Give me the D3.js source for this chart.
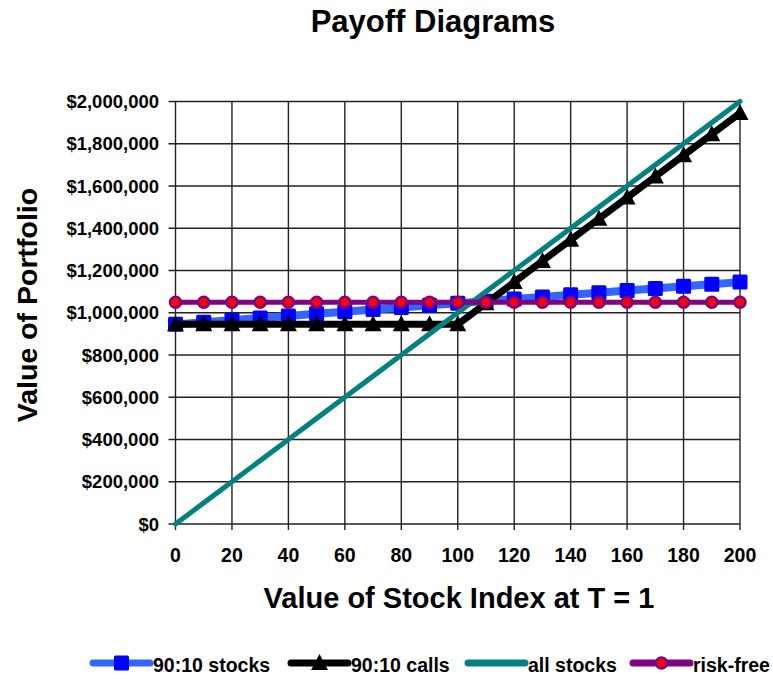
<!DOCTYPE html>
<html>
<head>
<meta charset="utf-8">
<script src="https://cdn.jsdelivr.net/npm/d3@7"></script>
<style>
  body { margin: 0; background: #fff; }
  text { font-family: "Liberation Sans", Arial, sans-serif; font-weight: bold; fill: #000; }
</style>
</head>
<body>
<svg id="chart" width="773" height="679"></svg>
<script>
// stock index levels at T = 1
var indexLevels = [0, 10, 20, 30, 40, 50, 60, 70, 80, 90, 100, 110, 120, 130, 140, 150, 160, 170, 180, 190, 200];

// portfolio values
var stocks9010 = [945000, 955000, 965000, 975000, 985000, 995000, 1005000, 1015000, 1025000, 1035000, 1045000,
                  1055000, 1065000, 1075000, 1085000, 1095000, 1105000, 1115000, 1125000, 1135000, 1145000];
var calls9010 = [945000, 945000, 945000, 945000, 945000, 945000, 945000, 945000, 945000, 945000, 945000,
                 1045000, 1145000, 1245000, 1345000, 1445000, 1545000, 1645000, 1745000, 1845000, 1945000];
var allStocks = [0, 100000, 200000, 300000, 400000, 500000, 600000, 700000, 800000, 900000, 1000000,
                 1100000, 1200000, 1300000, 1400000, 1500000, 1600000, 1700000, 1800000, 1900000, 2000000];
var riskFree = [1050000, 1050000, 1050000, 1050000, 1050000, 1050000, 1050000, 1050000, 1050000, 1050000, 1050000,
                1050000, 1050000, 1050000, 1050000, 1050000, 1050000, 1050000, 1050000, 1050000, 1050000];

var seriesNames = ["90:10 stocks", "90:10 calls", "all stocks", "risk-free"];

var xTicks = [0, 20, 40, 60, 80, 100, 120, 140, 160, 180, 200];
var yTicks = [0, 200000, 400000, 600000, 800000, 1000000, 1200000, 1400000, 1600000, 1800000, 2000000];

var series = [
  {name: seriesNames[0], values: stocks9010, line: "#3366ff", width: 8, marker: "square"},
  {name: seriesNames[1], values: calls9010, line: "#000000", width: 7, marker: "triangle"},
  {name: seriesNames[2], values: allStocks, line: "#008080", width: 5, marker: null},
  {name: seriesNames[3], values: riskFree, line: "#800080", width: 5, marker: "circle"}
];

var svg = d3.select("#chart");
var plotLeft = 175.5, plotRight = 740, plotTop = 101.5, plotBottom = 524;

var x = d3.scaleLinear().domain([0, 200]).range([plotLeft, plotRight]);
var y = d3.scaleLinear().domain([0, 2000000]).range([plotBottom, plotTop]);
var money = d3.format("$,");

// gridlines (and tick marks poking out of the plot)
svg.append("g").selectAll("line").data(xTicks).enter().append("line")
  .attr("x1", function(d){ return x(d); }).attr("x2", function(d){ return x(d); })
  .attr("y1", plotTop).attr("y2", plotBottom + 6)
  .attr("stroke", "#222").attr("stroke-width", 1.4);
svg.append("g").selectAll("line").data(yTicks).enter().append("line")
  .attr("x1", plotLeft - 7).attr("x2", plotRight)
  .attr("y1", function(d){ return y(d); }).attr("y2", function(d){ return y(d); })
  .attr("stroke", "#222").attr("stroke-width", 1.4);

// tick labels
svg.append("g").selectAll("text").data(yTicks).enter().append("text")
  .attr("x", 159).attr("y", function(d){ return y(d); }).attr("dy", "0.36em")
  .attr("text-anchor", "end").style("font-size", "18.5px")
  .text(function(d){ return money(d); });
svg.append("g").selectAll("text").data(xTicks).enter().append("text")
  .attr("x", function(d){ return x(d); }).attr("y", 562)
  .attr("text-anchor", "middle").style("font-size", "19.5px")
  .text(function(d){ return d; });

// titles
svg.append("text").attr("x", 433).attr("y", 32).attr("text-anchor", "middle")
  .style("font-size", "31px").text("Payoff Diagrams");
svg.append("text").attr("x", 459).attr("y", 608).attr("text-anchor", "middle")
  .style("font-size", "29px").text("Value of Stock Index at T = 1");
svg.append("text").attr("transform", "translate(37,305) rotate(-90)").attr("text-anchor", "middle")
  .style("font-size", "28.5px").text("Value of Portfolio");

function drawMarker(g, type, cx, cy){
  if (type === "square") {
    g.append("rect").attr("x", cx - 7.5).attr("y", cy - 7.5).attr("width", 15).attr("height", 15)
      .attr("rx", 1.5).attr("fill", "#0000ff");
  } else if (type === "triangle") {
    g.append("path").attr("d", "M" + cx + "," + (cy - 9) + "L" + (cx + 8.5) + "," + (cy + 7) + "L" + (cx - 8.5) + "," + (cy + 7) + "Z")
      .attr("fill", "#000");
  } else if (type === "circle") {
    g.append("circle").attr("cx", cx).attr("cy", cy).attr("r", 5.5)
      .attr("fill", "#ff0000").attr("stroke", "#800080").attr("stroke-width", 2.5);
  }
}

var line = d3.line()
  .x(function(d, i){ return x(indexLevels[i]); })
  .y(function(d){ return y(d); });

series.forEach(function(s){
  var g = svg.append("g");
  g.append("path").datum(s.values).attr("d", line)
    .attr("fill", "none").attr("stroke", s.line).attr("stroke-width", s.width)
    .attr("stroke-linejoin", "round").attr("stroke-linecap", "round");
  if (s.marker) {
    s.values.forEach(function(v, i){ drawMarker(g, s.marker, x(indexLevels[i]), y(v)); });
  }
});

// legend
var legendX = [93, 291, 468, 633];
series.forEach(function(s, i){
  var g = svg.append("g").attr("transform", "translate(" + legendX[i] + ",663)");
  g.append("line").attr("x1", 0).attr("x2", 57).attr("y1", 0).attr("y2", 0)
    .attr("stroke", s.line).attr("stroke-width", 7).attr("stroke-linecap", "round");
  if (s.marker) drawMarker(g, s.marker, 28.5, 0);
  g.append("text").attr("x", 60).attr("y", 9)
    .style("font-size", "19.5px").text(s.name);
});
</script>
</body>
</html>
